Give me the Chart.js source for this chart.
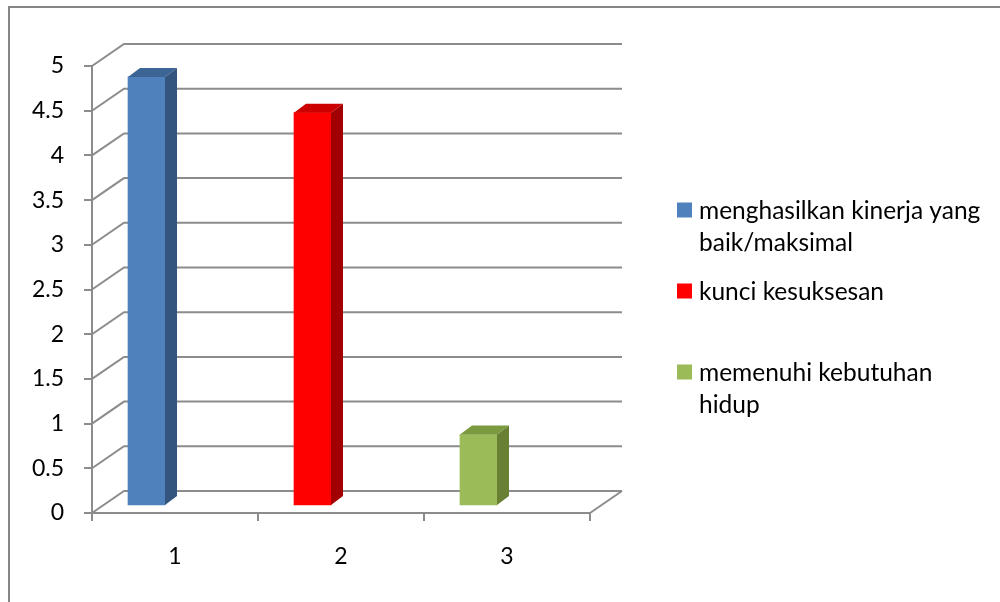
<!DOCTYPE html>
<html>
<head>
<meta charset="utf-8">
<script src="https://cdn.jsdelivr.net/npm/chart.js@4"></script>
<style>
  html, body { margin: 0; padding: 0; background: #fff; }
  canvas { display: block; }
</style>
</head>
<body>
<canvas id="chart" width="1000" height="602"></canvas>
<script>
// ========== DATA ==========

const categories = ['1', '2', '3'];
const values = [4.8, 4.4, 0.8];
const seriesNames = [
    ['menghasilkan kinerja yang', 'baik/maksimal'],
    ['kunci kesuksesan'],
    ['memenuhi kebutuhan', 'hidup']
];
const yMin = 0;
const yMax = 5;
const yStep = 0.5;

// ========== STYLE ==========

const frontColors = ['#4F81BD', '#FF0000', '#9BBB59'];
const topColors = ['#3C6494', '#CC0000', '#7B9A3F'];
const sideColors = ['#34557E', '#A20000', '#687F34'];
const gridColor = '#8C8C8C';
const fontFamily = "Lato, 'Open Sans', sans-serif";

// depth of the back wall and of each column
const WALL_DX = 32, WALL_DY = 22;
const BAR_DX = 12, BAR_DY = 9;
// columns sit a little inside the floor
const BAR_SHIFT_X = -28.5, BAR_SHIFT_Y = -7;

// ========== PLUGINS ==========

const backWall = {
    id: 'backWall',
    beforeDatasetsDraw(chart) {
        const { ctx, chartArea, scales } = chart;
        const y = scales.y;
        ctx.save();
        ctx.strokeStyle = gridColor;
        ctx.lineWidth = 2;
        ctx.beginPath();
        y.ticks.forEach(t => {
            const py = y.getPixelForValue(t.value);
            ctx.moveTo(chartArea.left, py);
            ctx.lineTo(chartArea.left + WALL_DX, py - WALL_DY);
            ctx.lineTo(chartArea.right + WALL_DX, py - WALL_DY);
        });
        // right edge of the floor
        const base = y.getPixelForValue(yMin);
        ctx.moveTo(chartArea.right, base);
        ctx.lineTo(chartArea.right + WALL_DX, base - WALL_DY);
        ctx.stroke();
        ctx.restore();
    }
};

const columns3d = {
    id: 'columns3d',
    beforeDatasetDraw(chart) {
        chart.ctx.save();
        chart.ctx.translate(BAR_SHIFT_X, BAR_SHIFT_Y);
    },
    afterDatasetDraw(chart, args) {
        const ctx = chart.ctx;
        args.meta.data.forEach((bar, i) => {
            const { x, y, base, width } = bar.getProps(['x', 'y', 'base', 'width'], true);
            const xl = x - width / 2;
            const xr = x + width / 2;

            // side face
            ctx.fillStyle = sideColors[i];
            ctx.beginPath();
            ctx.moveTo(xr, y);
            ctx.lineTo(xr + BAR_DX, y - BAR_DY);
            ctx.lineTo(xr + BAR_DX, base - BAR_DY);
            ctx.lineTo(xr, base);
            ctx.closePath();
            ctx.fill();

            // top face
            ctx.fillStyle = topColors[i];
            ctx.beginPath();
            ctx.moveTo(xl, y);
            ctx.lineTo(xl + BAR_DX, y - BAR_DY);
            ctx.lineTo(xr + BAR_DX, y - BAR_DY);
            ctx.lineTo(xr, y);
            ctx.closePath();
            ctx.fill();
        });
        ctx.restore();
    }
};

const sideLegend = {
    id: 'sideLegend',
    afterDraw(chart) {
        const ctx = chart.ctx;
        ctx.save();
        ctx.font = '24.5px ' + fontFamily;
        ctx.textBaseline = 'middle';
        seriesNames.forEach((lines, i) => {
            const yc = 210 + i * 81;
            ctx.fillStyle = frontColors[i];
            ctx.fillRect(677, yc - 7.5, 15, 15);
            ctx.fillStyle = '#000';
            lines.forEach((line, j) => ctx.fillText(line, 699, yc + 1 + j * 32));
        });
        ctx.restore();
    }
};

const frame = {
    id: 'frame',
    beforeDraw(chart) {
        const ctx = chart.ctx;
        ctx.save();
        ctx.fillStyle = '#fff';
        ctx.fillRect(0, 0, chart.width, chart.height);
        ctx.strokeStyle = '#868686';
        ctx.lineWidth = 2;
        ctx.strokeRect(9, 7, chart.width + 20, chart.height + 20);
        ctx.restore();
    }
};

// ========== CHART ==========

Chart.defaults.font.family = fontFamily;
Chart.defaults.color = '#000';

new Chart(document.getElementById('chart').getContext('2d'), {
    type: 'bar',
    data: {
        labels: categories,
        datasets: [{
            data: values,
            backgroundColor: frontColors,
            barThickness: 37
        }]
    },
    options: {
        responsive: false,
        animation: false,
        devicePixelRatio: 1,
        layout: {
            padding: { top: 66, right: 410, left: 0, bottom: 0 }
        },
        plugins: {
            legend: { display: false },
            tooltip: { enabled: false }
        },
        scales: {
            x: {
                grid: {
                    drawOnChartArea: false,
                    drawTicks: true,
                    tickLength: 8,
                    color: gridColor,
                    lineWidth: 2
                },
                border: { display: true, color: gridColor, width: 2 },
                ticks: { font: { size: 23 }, padding: 22 },
                afterFit: s => { s.height = 89; }
            },
            y: {
                min: yMin,
                max: yMax,
                ticks: {
                    stepSize: yStep,
                    font: { size: 23 },
                    padding: 20,
                    callback: v => String(v)
                },
                grid: {
                    drawOnChartArea: false,
                    drawTicks: true,
                    tickLength: 8,
                    color: gridColor,
                    lineWidth: 2
                },
                border: { display: true, color: gridColor, width: 2 },
                afterFit: s => { s.width = 92; }
            }
        }
    },
    plugins: [frame, backWall, columns3d, sideLegend]
});
</script>
</body>
</html>
